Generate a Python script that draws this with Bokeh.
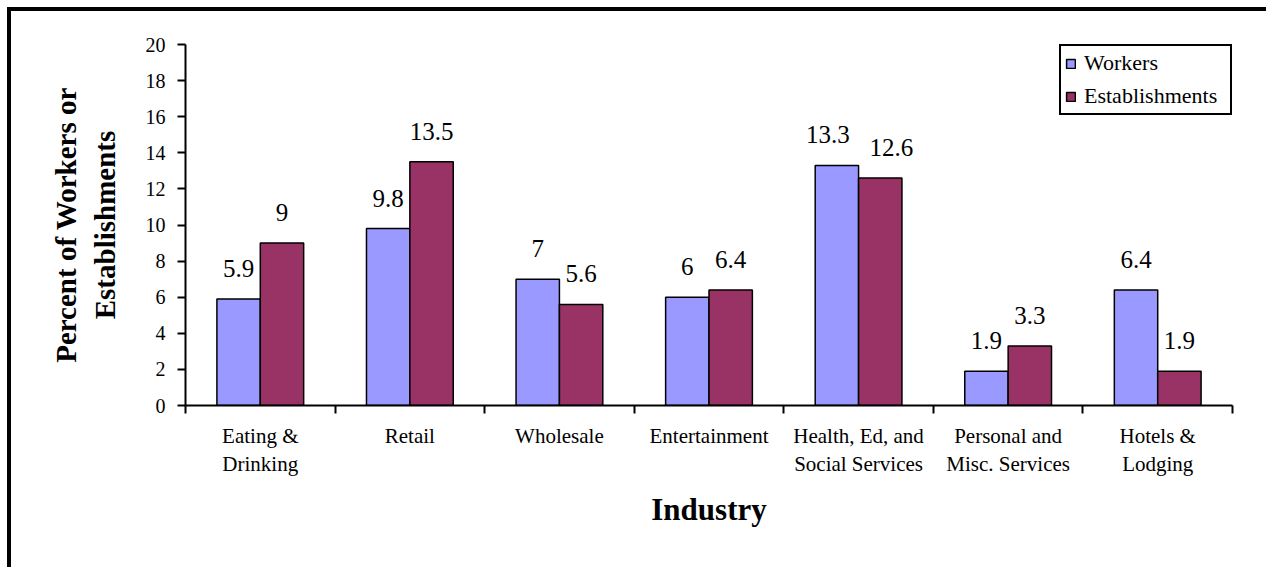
from bokeh.plotting import figure
from bokeh.models import ColumnDataSource, FixedTicker, Legend, LegendItem, LabelSet
from bokeh.embed import file_html
from bokeh.resources import INLINE

industries = ["Eating &\nDrinking", "Retail", "Wholesale", "Entertainment",
              "Health, Ed, and\nSocial Services", "Personal and\nMisc. Services", "Hotels &\nLodging"]
workers = [5.9, 9.8, 7, 6, 13.3, 1.9, 6.4]
establishments = [9, 13.5, 5.6, 6.4, 12.6, 3.3, 1.9]
y_ticks = list(range(0, 21, 2))

# label nudges (pixels) used in the original to keep neighbouring labels apart
nudge_w = [0, 0, 0, 0, -9, 0, 0]
nudge_e = [0, 0, 0, 0, 11, 0, 0]

BLUE = "#9999FF"
RED = "#993366"
FONT = "Liberation Serif"
n = len(industries)
bw = 0.29

src_w = ColumnDataSource(dict(x=[i + 0.5 - bw / 2 for i in range(n)], top=workers,
                              lab=[f"{v:g}" for v in workers], dx=nudge_w))
src_e = ColumnDataSource(dict(x=[i + 0.5 + bw / 2 for i in range(n)], top=establishments,
                              lab=[f"{v:g}" for v in establishments], dx=nudge_e))

p = figure(width=1259, height=560, output_backend="svg", toolbar_location=None,
           x_range=(0, n), y_range=(0, 20),
           min_border_left=174, min_border_right=38, min_border_top=33, min_border_bottom=166)
p.styles = {"margin-left": "7px", "margin-top": "7px",
            "border-top": "4px solid black", "border-left": "4px solid black"}
p.outline_line_color = None
p.xgrid.visible = False
p.ygrid.visible = False

rw = p.vbar(x="x", top="top", width=bw, source=src_w, fill_color=BLUE, line_color="black", line_width=1.5)
re_ = p.vbar(x="x", top="top", width=bw, source=src_e, fill_color=RED, line_color="black", line_width=1.5)

for s in (src_w, src_e):
    p.add_layout(LabelSet(x="x", y="top", text="lab", source=s, text_align="center",
                          text_baseline="bottom", y_offset=22, x_offset="dx", text_font=FONT,
                          text_font_size="25px", text_color="black"))

# y axis
p.yaxis.ticker = FixedTicker(ticks=y_ticks)
p.yaxis.axis_line_width = 2
p.yaxis.axis_line_color = "black"
p.yaxis.major_tick_line_width = 2
p.yaxis.major_tick_out = 8
p.yaxis.major_tick_in = 0
p.yaxis.minor_tick_line_color = None
p.yaxis.major_label_text_font = FONT
p.yaxis.major_label_text_font_size = "20px"
p.yaxis.major_label_text_color = "black"
p.yaxis.major_label_standoff = 12
p.yaxis.axis_label = "Percent of Workers or\nEstablishments"
p.yaxis.axis_label_text_font = FONT
p.yaxis.axis_label_text_font_style = "bold"
p.yaxis.axis_label_text_font_size = "29px"
p.yaxis.axis_label_text_color = "black"
p.yaxis.axis_label_standoff = 22

# x axis
centers = [i + 0.5 for i in range(n)]
p.xaxis.ticker = FixedTicker(ticks=centers, minor_ticks=list(range(n + 1)))
p.xaxis.major_label_overrides = {c: lab for c, lab in zip(centers, industries)}
p.xaxis.axis_line_width = 2
p.xaxis.axis_line_color = "black"
p.xaxis.major_tick_line_color = None
p.xaxis.minor_tick_line_width = 2
p.xaxis.minor_tick_line_color = "black"
p.xaxis.minor_tick_out = 8
p.xaxis.minor_tick_in = 0
p.xaxis.major_label_text_font = FONT
p.xaxis.major_label_text_font_size = "21px"
p.xaxis.major_label_text_color = "black"
p.xaxis.major_label_standoff = 10
p.xaxis.axis_label = "Industry"
p.xaxis.axis_label_text_font = FONT
p.xaxis.axis_label_text_font_style = "bold"
p.xaxis.axis_label_text_font_size = "31px"
p.xaxis.axis_label_text_color = "black"
p.xaxis.axis_label_standoff = 13

legend = Legend(items=[LegendItem(label="Workers", renderers=[rw]),
                       LegendItem(label="Establishments", renderers=[re_])],
                location=(874, 290))
legend.label_text_font = FONT
legend.label_text_font_size = "22px"
legend.label_text_color = "black"
legend.glyph_width = 11
legend.glyph_height = 11
legend.label_height = 20
legend.label_width = 142
legend.spacing = 7
legend.padding = 4
legend.margin = 0
legend.label_standoff = 8
legend.border_line_color = "black"
legend.border_line_width = 2.5
legend.border_line_alpha = 1
legend.background_fill_alpha = 1
p.add_layout(legend)

open("out.html", "w").write(file_html(p, INLINE))
